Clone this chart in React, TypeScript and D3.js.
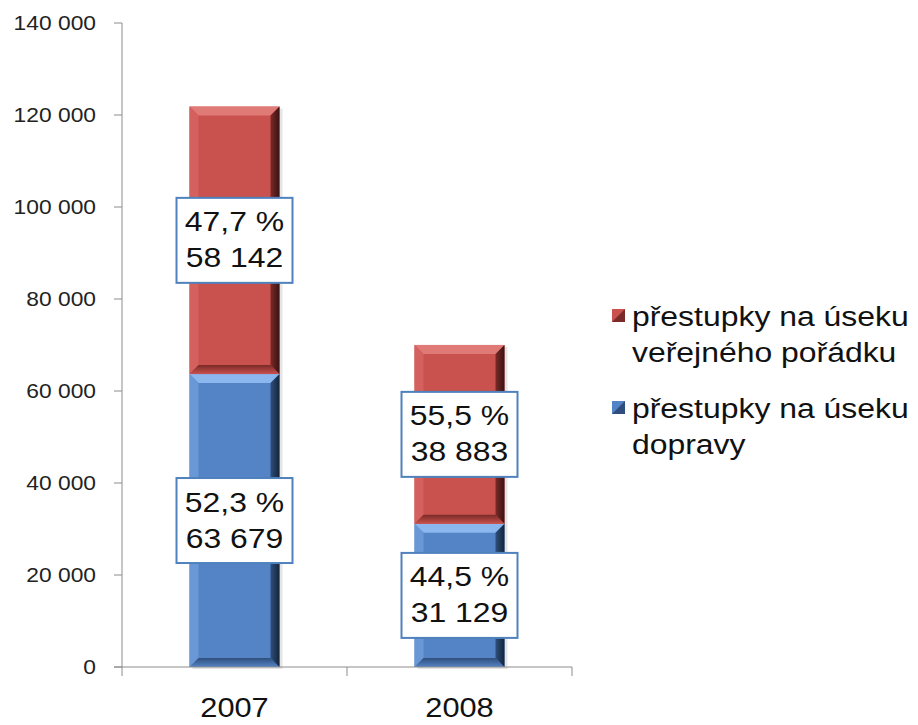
import React, { useEffect, useRef } from 'react';
import * as d3 from 'd3';

const categories = ['2007', '2008'];
const trafficValues = [63679, 31129];
const publicOrderValues = [58142, 38883];
const trafficPct = ['52,3 %', '44,5 %'];
const publicOrderPct = ['47,7 %', '55,5 %'];
const yTicks = [0, 20000, 40000, 60000, 80000, 100000, 120000, 140000];

const seriesNames = [
  ['přestupky na úseku', 'veřejného pořádku'],
  ['přestupky na úseku', 'dopravy'],
];

const fmt = (v: number) => d3.format(',')(v).replace(/,/g, ' ');

const App: React.FC = () => {
  const svgRef = useRef<SVGSVGElement>(null);

  useEffect(() => {
    if (!svgRef.current) return;
    const svg = d3.select(svgRef.current);
    svg.selectAll('*').remove();

    const left = 122;
    const top = 23;
    const bottom = 667;
    const plotW = 450;
    const stretch = 1.14;

    const x = d3.scaleBand<string>().domain(categories).range([left, left + plotW]).paddingInner(0.6).paddingOuter(0.3);
    const band = d3.scaleBand<string>().domain(categories).range([left, left + plotW]);
    const y = d3.scaleLinear().domain([0, 140000]).range([bottom, top]);

    // text with the slight horizontal stretch of the original picture
    const text = (tx: number, ty: number, s: string, size: number, anchor = 'start', fill = '#111') =>
      svg.append('text')
        .attr('transform', `translate(${tx},${ty}) scale(${stretch},1)`)
        .attr('text-anchor', anchor).attr('font-size', size).attr('fill', fill)
        .text(s);

    const defs = svg.append('defs');
    const palettes = {
      red: { face: '#c9514e', light: '#e07a77', mid: '#d5615e', dark: '#7a2a28', edge: '#3a1212' },
      blue: { face: '#5584c6', light: '#8bb6ee', mid: '#6a98d6', dark: '#2e4f7c', edge: '#14243a' },
    };
    Object.entries(palettes).forEach(([k, p]) => {
      const g = defs.append('linearGradient').attr('id', `right-${k}`).attr('x1', 0).attr('x2', 1).attr('y1', 0).attr('y2', 0);
      g.append('stop').attr('offset', '0%').attr('stop-color', p.dark);
      g.append('stop').attr('offset', '100%').attr('stop-color', p.edge);
      const b = defs.append('linearGradient').attr('id', `bottom-${k}`).attr('x1', 0).attr('x2', 0).attr('y1', 0).attr('y2', 1);
      b.append('stop').attr('offset', '0%').attr('stop-color', p.dark);
      b.append('stop').attr('offset', '100%').attr('stop-color', p.face);
    });

    const drawBevel = (x0: number, y0: number, x1: number, y1: number, key: 'red' | 'blue') => {
      const p = palettes[key];
      const bv = Math.min(9, (y1 - y0) / 2);
      const g = svg.append('g');
      g.append('rect').attr('x', x0).attr('y', y0).attr('width', x1 - x0).attr('height', y1 - y0).attr('fill', p.face);
      const poly = (pts: [number, number][], fill: string) =>
        g.append('polygon').attr('points', pts.map(d => d.join(',')).join(' ')).attr('fill', fill);
      poly([[x0, y0], [x1, y0], [x1 - bv, y0 + bv], [x0 + bv, y0 + bv]], p.light);
      poly([[x0, y0], [x0 + bv, y0 + bv], [x0 + bv, y1 - bv], [x0, y1]], p.mid);
      poly([[x0, y1], [x0 + bv, y1 - bv], [x1 - bv, y1 - bv], [x1, y1]], `url(#bottom-${key})`);
      poly([[x1, y0], [x1, y1], [x1 - bv, y1 - bv], [x1 - bv, y0 + bv]], `url(#right-${key})`);
    };

    // soft shadow behind bars
    categories.forEach((c, i) => {
      const total = trafficValues[i] + publicOrderValues[i];
      svg.append('rect')
        .attr('x', x(c)! + 3).attr('y', y(total) + 2)
        .attr('width', x.bandwidth()).attr('height', bottom - y(total))
        .attr('fill', '#000').attr('opacity', 0.1);
    });

    categories.forEach((c, i) => {
      const x0 = x(c)!;
      const x1 = x0 + x.bandwidth();
      const yb = y(trafficValues[i]);
      const yt = y(trafficValues[i] + publicOrderValues[i]);
      drawBevel(x0, yb, x1, bottom, 'blue');
      drawBevel(x0, yt, x1, yb, 'red');
    });

    // axes
    const axisColor = '#8c8c8c';
    svg.append('line').attr('x1', left).attr('x2', left).attr('y1', top).attr('y2', bottom).attr('stroke', axisColor);
    svg.append('line').attr('x1', left - 8).attr('x2', left + plotW).attr('y1', bottom).attr('y2', bottom).attr('stroke', axisColor);
    yTicks.forEach(t => {
      svg.append('line').attr('x1', left - 8).attr('x2', left).attr('y1', y(t)).attr('y2', y(t)).attr('stroke', axisColor);
      text(96, y(t) + 7, t === 0 ? '0' : fmt(t), 20, 'end', '#222');
    });
    categories.forEach((c, i) => {
      const bx = band(c)!;
      svg.append('line').attr('x1', bx).attr('x2', bx).attr('y1', bottom).attr('y2', bottom + 9).attr('stroke', axisColor);
      if (i === categories.length - 1) {
        const ex = bx + band.bandwidth();
        svg.append('line').attr('x1', ex).attr('x2', ex).attr('y1', bottom).attr('y2', bottom + 9).attr('stroke', axisColor);
      }
      text(x(c)! + x.bandwidth() / 2, 717, c, 27, 'middle');
    });

    // data labels
    const label = (cx: number, cy: number, lines: string[]) => {
      const w = 116;
      const h = 85;
      svg.append('rect')
        .attr('x', cx - w / 2).attr('y', cy - h / 2).attr('width', w).attr('height', h)
        .attr('fill', '#fff').attr('stroke', '#4f81bd').attr('stroke-width', 2);
      lines.forEach((l, k) => text(cx, cy + (k === 0 ? -9 : 27), l, 28, 'middle'));
    };
    categories.forEach((c, i) => {
      const cx = x(c)! + x.bandwidth() / 2;
      const yb = y(trafficValues[i]);
      const yt = y(trafficValues[i] + publicOrderValues[i]);
      label(cx, (yt + yb) / 2, [publicOrderPct[i], fmt(publicOrderValues[i])]);
      label(cx, (yb + bottom) / 2, [trafficPct[i], fmt(trafficValues[i])]);
    });

    // legend
    const legendKeys: ('red' | 'blue')[] = ['red', 'blue'];
    const legendY = [326, 418];
    legendKeys.forEach((k, i) => {
      const p = palettes[k];
      const ly = legendY[i];
      const mx = 612;
      const my = ly - 17;
      const s = 13;
      svg.append('rect').attr('x', mx).attr('y', my).attr('width', s).attr('height', s).attr('fill', p.face);
      svg.append('polygon').attr('points', `${mx},${my + s} ${mx + s},${my} ${mx + s},${my + s}`).attr('fill', p.dark);
      seriesNames[i].forEach((t, j) => text(632, ly + j * 36, t, 28));
    });
  }, []);

  return (
    <svg
      ref={svgRef}
      width={918}
      height={725}
      style={{ position: 'absolute', left: 0, top: 0, background: '#fff', fontFamily: '"Liberation Sans", Arial, sans-serif' }}
    />
  );
};

export default App;
